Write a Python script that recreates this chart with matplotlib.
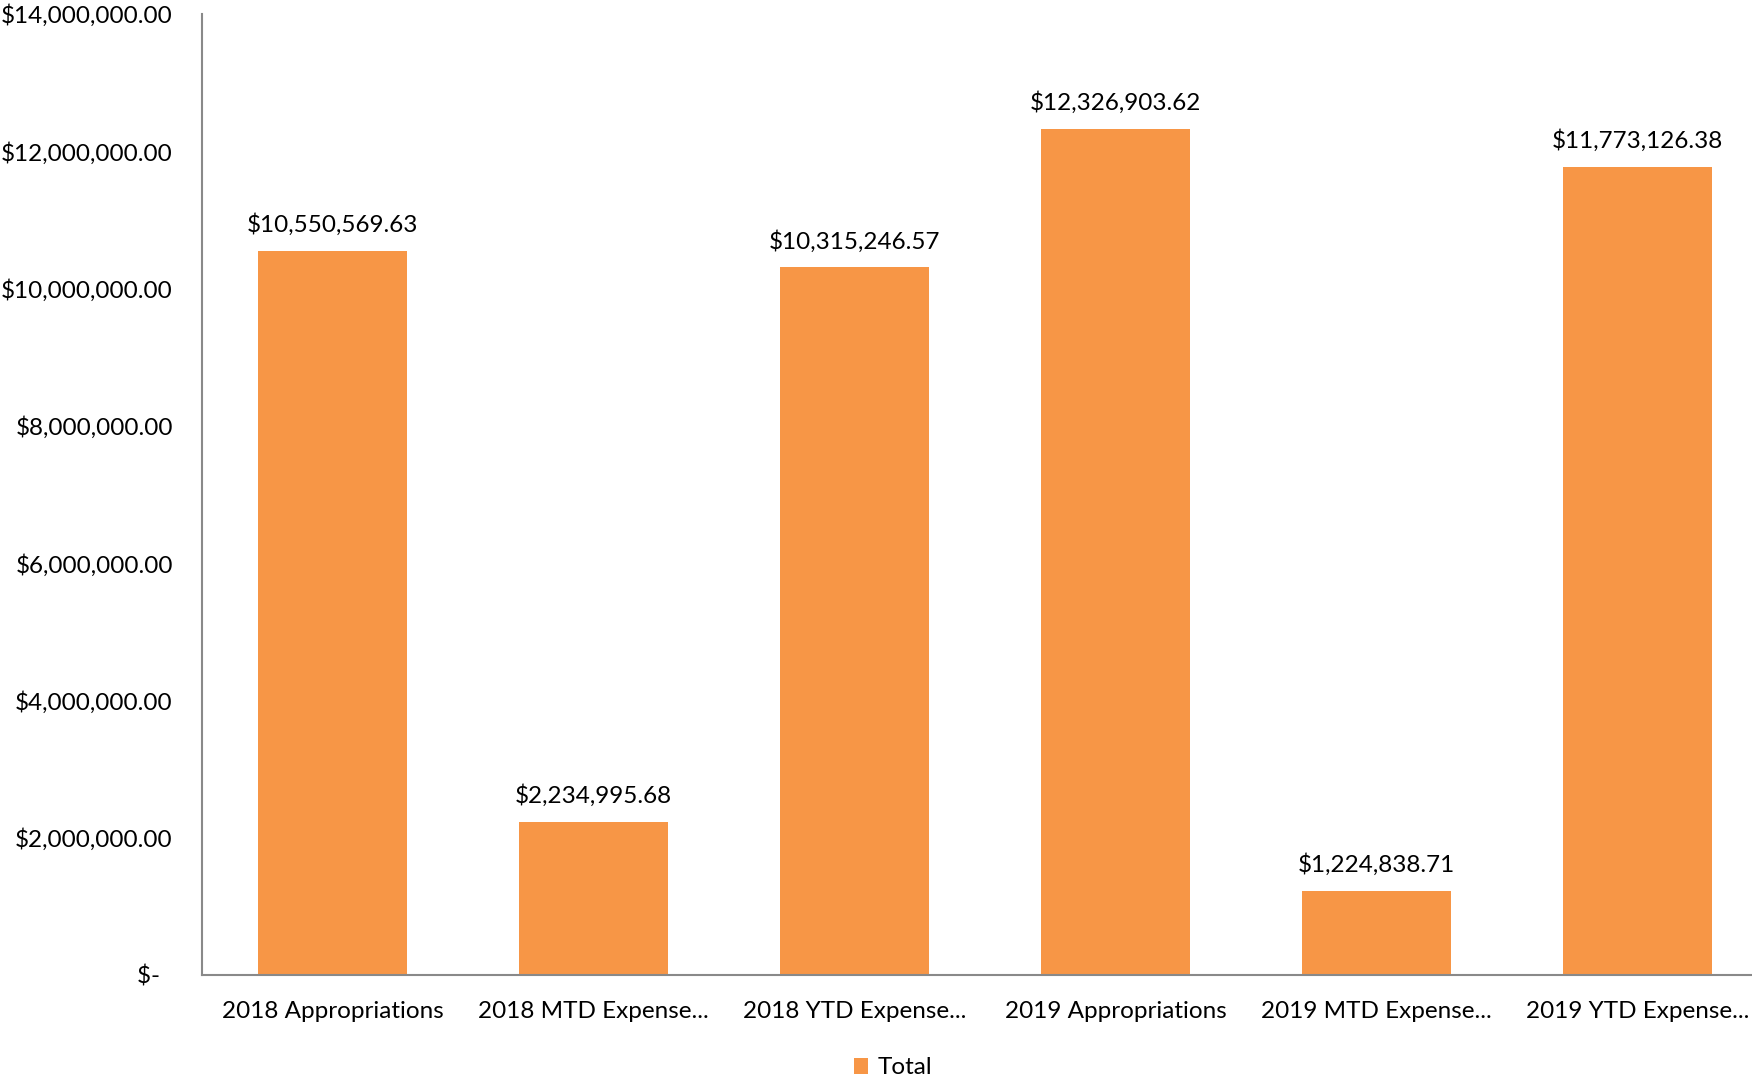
import matplotlib
matplotlib.use("Agg")
import matplotlib.pyplot as plt
from matplotlib.ticker import FuncFormatter, MultipleLocator
from matplotlib.patches import Patch

categories = ["2018 Appropriations", "2018 MTD Expense...", "2018 YTD Expense...",
              "2019 Appropriations", "2019 MTD Expense...", "2019 YTD Expense..."]
values = [10550569.63, 2234995.68, 10315246.57, 12326903.62, 1224838.71, 11773126.38]
series_name = "Total"

plt.rcParams['font.family'] = ['Lato', 'DejaVu Sans']
ORANGE = "#F79646"
GRAY = "#898989"
FS = 17.5

fig = plt.figure(figsize=(17.52, 10.79), dpi=100)
ax = fig.add_axes([202/1752, 1 - 975/1079, (1768 - 202)/1752, (975 - 14)/1079])

x = list(range(len(categories)))
bars = ax.bar(x, values, width=0.57, color=ORANGE, zorder=2)
ax.set_xlim(-0.5, len(categories) - 0.5)
ax.set_ylim(0, 14000000)
ax.yaxis.set_major_locator(MultipleLocator(2000000))

def fmt(v, pos):
    if abs(v) < 1e-6:
        return "$-  "
    return "${:,.2f}".format(v)
ax.yaxis.set_major_formatter(FuncFormatter(fmt))

ax.set_xticks(x)
ax.set_xticklabels(categories)
ax.tick_params(axis='both', length=0, labelsize=FS, colors='black')
ax.tick_params(axis='y', pad=21)
ax.tick_params(axis='x', pad=18.5)

for s in ['top', 'right']:
    ax.spines[s].set_visible(False)
for s in ['left', 'bottom']:
    ax.spines[s].set_color(GRAY)
    ax.spines[s].set_linewidth(1.5)

for xi, v in zip(x, values):
    ax.annotate("${:,.2f}".format(v), (xi, v), xytext=(0, 10.5), textcoords='offset points',
                ha='center', va='bottom', fontsize=FS, color='black')

handle = Patch(facecolor=ORANGE, edgecolor='none')
fig.legend([handle], [series_name], loc='center', bbox_to_anchor=(893/1752, 1 - 1068/1079),
           frameon=False, fontsize=FS, handlelength=0.6, handleheight=0.6, handletextpad=0.4)

fig.savefig("out.png", dpi=100, facecolor='white')
